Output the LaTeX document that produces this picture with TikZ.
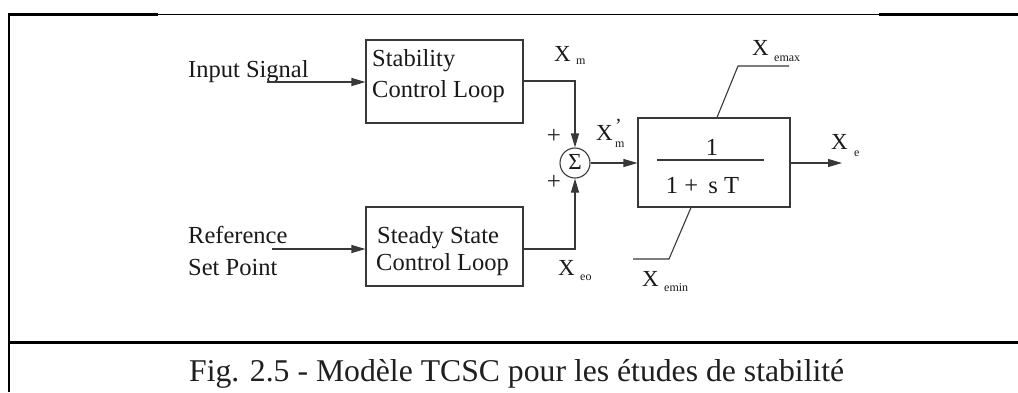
\documentclass[tikz,border=0pt]{standalone}
\usepackage{fontspec}
\setmainfont{Liberation Serif}
\usetikzlibrary{arrows.meta,calc}

\tikzset{
  ink/.style={black!78, line width=1.1pt},
  blk/.style={draw=black!78, line width=1.1pt, rectangle, inner sep=0pt},
  wire/.style={ink},
  arr/.style={ink, -{Triangle[length=14pt,width=8pt]}},
  txt/.style={anchor=base west, inner sep=0pt, text=black!90, font=\fontsize{24.5}{29}\selectfont},
  vx/.style={anchor=base west, inner sep=0pt, text=black!90, font=\fontsize{23}{27}\selectfont},
  sub/.style={anchor=base west, inner sep=0pt, text=black!90, font=\fontsize{12}{14}\selectfont},
  sgn/.style={inner sep=0pt, text=black!85, font=\fontsize{25}{28}\selectfont},
  tfx/.style={anchor=base, inner sep=0pt, text=black!90, font=\fontsize{24.5}{29}\selectfont},
  frame/.style={black, line width=2.6pt},
  framethin/.style={black, line width=1pt}
}

\begin{document}
\begin{tikzpicture}[x=1pt,y=-1pt]
\useasboundingbox (0,0) rectangle (1018,392);

% table frame around the figure
\draw[frame] (9,392) -- (9,14.5) -- (158,14.5);
\draw[framethin] (158,14.2) -- (879,14.2);
\draw[frame] (879,14.5) -- (1018,14.5);
\draw[frame] (9,342.5) -- (1018,342.5);

% blocks
\node[blk, minimum width=157pt, minimum height=83pt] (b1) at (444.5,81.5) {};
\node[blk, minimum width=157pt, minimum height=79pt] (b2) at (444.5,246.5) {};
\node[blk, minimum width=152pt, minimum height=89pt] (tf) at (714,162.5) {};
\node[draw=black!78, line width=1.1pt, circle, minimum size=30pt, inner sep=0pt] (sum) at (575,163) {};
\node[inner sep=0pt, text=black!90, font=\fontsize{23}{26}\selectfont] (sig) at (575,162) {Σ};

% block texts
\node[txt] (t1a) at (372,66) {Stability};
\node[txt] (t1b) at (372,97) {Control Loop};
\node[txt] (t2a) at (377,243) {Steady State};
\node[txt] (t2b) at (376,270) {Control Loop};

% input labels
\node[txt] (in1) at (188,77) {Input Signal};
\node[txt] (in2a) at (188,243) {Reference};
\node[txt] (in2b) at (188,275) {Set Point};

% transfer function
\node[tfx] (num) at (712,155) {1};
\node[tfx] (den) at (702.5,193) {1 +\ \,s T};
\draw[wire] ($(tf.west)+(20,-2.5)$) -- ($(tf.east)+(-27,-2.5)$);

% connectors
\coordinate (inp) at (267,82);
\coordinate (ref) at (272,249);
\coordinate (xe) at (842,163);
\draw[arr] (inp) -- (inp -| b1.west);
\draw[arr] (ref) -- (ref -| b2.west);
\draw[arr] ($(b1.east)+(0,-0.5)$) -| (sum.north);
\draw[arr] (ref -| b2.east) -| (sum.south);
\draw[arr] (sum.east) -- (sum.east -| tf.west);
\draw[arr] (tf.east |- xe) -- (xe);

% limiter leads
\coordinate (kmax) at (738,66);
\coordinate (emax) at (789,66);
\coordinate (kmin) at (669,259);
\coordinate (emin) at (633,259);
\draw[wire] ($(tf.north)+(3,0)$) -- (kmax) -- (emax);
\draw[wire] ($(tf.south)+(-23,0)$) -- (kmin) -- (emin);

% signs
\node[sgn] (p1) at (554,136) {+};
\node[sgn] (p2) at (554,182) {+};

% signal names
\node[vx] (xm) at (554,61) {X};
\node[sub] (xms) at (576,64) {m};
\node[vx] (xmp) at (596,140) {X};
\node[vx, font=\fontsize{20}{24}\selectfont] (xmpr) at (615,132) {’};
\node[sub] (xmps) at (615,147) {m};
\node[vx] (xmax) at (752,55) {X};
\node[sub] (xmaxs) at (774,61) {emax};
\node[vx] (xout) at (831,149) {X};
\node[sub] (xouts) at (854,156) {e};
\node[vx] (xeo) at (558,275) {X};
\node[sub] (xeos) at (580,280) {eo};
\node[vx] (xmin) at (642,286) {X};
\node[sub] (xmins) at (664,291) {emin};

% caption
\node[anchor=base west, inner sep=0pt, text=black!88, font=\fontsize{31.7}{38}\selectfont]
  (cap) at (189,381) {Fig. 2.5 - Modèle TCSC pour les études de stabilité};
\end{tikzpicture}
\end{document}
